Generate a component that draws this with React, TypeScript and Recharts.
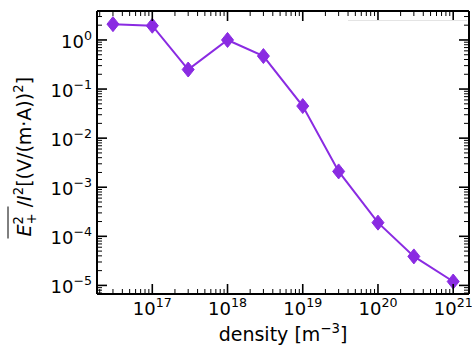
import { Line, LineChart, XAxis, YAxis } from "recharts";

const densities = [3e16, 1e17, 3e17, 1e18, 3e18, 1e19, 3e19, 1e20, 3e20, 1e21];
const fieldPower = [2.1, 1.95, 0.25, 1.0, 0.47, 0.045, 0.0021, 1.9e-4, 3.9e-5, 1.2e-5];

// axis limits as log10 exponents
const X_MIN_EXP = 16.265;
const X_MAX_EXP = 21.21;
const Y_MIN_EXP = -5.175;
const Y_MAX_EXP = 0.59;

const COLOR = "#8a2be2";
const FONT = "'DejaVu Sans', sans-serif";
const TICK_FONT = 18;
const SUP_FONT = 12.6;

const data = densities.map((d, i) => ({ density: d, field: fieldPower[i] }));

function logTicks(minExp: number, maxExp: number) {
  const out: number[] = [];
  for (let d = Math.floor(minExp); d <= Math.ceil(maxExp); d++) {
    for (let k = 1; k <= 9; k++) {
      const v = k * Math.pow(10, d);
      const l = Math.log10(v);
      if (l >= minExp && l <= maxExp) out.push(v);
    }
  }
  return out;
}

const xTicks = logTicks(X_MIN_EXP, X_MAX_EXP);
const yTicks = logTicks(Y_MIN_EXP, Y_MAX_EXP);

const isMajor = (v: number) => {
  const l = Math.log10(v);
  return Math.abs(l - Math.round(l)) < 1e-9;
};
const expText = (v: number) => {
  const e = Math.round(Math.log10(v));
  return e < 0 ? `\u2212${-e}` : `${e}`;
};

function BottomTick({ x, y, payload }: any) {
  const v = payload.value;
  const major = isMajor(v);
  return (
    <g>
      <line x1={x} x2={x} y1={y} y2={y - (major ? 10 : 5)} stroke="#000" strokeWidth={major ? 1.6 : 1} />
      {major && (
        <text x={x} y={y + 21} textAnchor="middle" fontFamily={FONT} fontSize={TICK_FONT} fill="#000">
          10
          <tspan fontSize={SUP_FONT} dy={-8}>
            {expText(v)}
          </tspan>
        </text>
      )}
    </g>
  );
}

function TopTick({ x, y, payload }: any) {
  const major = isMajor(payload.value);
  return (
    <line x1={x} x2={x} y1={y} y2={y + (major ? 10 : 5)} stroke="#000" strokeWidth={major ? 1.6 : 1} />
  );
}

function LeftTick({ x, y, payload }: any) {
  const v = payload.value;
  const major = isMajor(v);
  return (
    <g>
      <line x1={x} x2={x + (major ? 10 : 5)} y1={y} y2={y} stroke="#000" strokeWidth={major ? 1.6 : 1} />
      {major && (
        <text x={x - 5} y={y + 8} textAnchor="end" fontFamily={FONT} fontSize={TICK_FONT} fill="#000">
          10
          <tspan fontSize={SUP_FONT} dy={-8}>
            {expText(v)}
          </tspan>
        </text>
      )}
    </g>
  );
}

function RightTick({ x, y, payload }: any) {
  const major = isMajor(payload.value);
  return (
    <line x1={x} x2={x - (major ? 10 : 5)} y1={y} y2={y} stroke="#000" strokeWidth={major ? 1.6 : 1} />
  );
}

function Diamond({ cx, cy }: any) {
  if (cx == null || cy == null) return <g />;
  return (
    <polygon
      points={`${cx},${cy - 7.5} ${cx + 6},${cy} ${cx},${cy + 7.5} ${cx - 6},${cy}`}
      fill={COLOR}
      stroke={COLOR}
      strokeWidth={1}
    />
  );
}

function XTitle({ viewBox }: any) {
  const { x, y, width } = viewBox;
  return (
    <text x={x + width / 2} y={y + 47} textAnchor="middle" fontFamily={FONT} fontSize={19} fill="#000">
      density [m
      <tspan fontSize={13.3} dy={-8}>
        {"\u22123"}
      </tspan>
      <tspan dy={8}>]</tspan>
    </text>
  );
}

function YTitle({ viewBox }: any) {
  const { x, y, height } = viewBox;
  const bx = x + 31;
  const sy = y + height / 2 + 84;
  return (
    <g transform={`translate(${bx}, ${sy}) rotate(-90)`}>
      <line x1={-2} x2={30} y1={-23} y2={-23} stroke="#000" strokeWidth={1} />
      <text x={0} y={0} fontFamily={FONT} fontSize={19} fill="#000">
        <tspan fontStyle="italic">E</tspan>
        <tspan fontSize={13.3} dy={-8}>
          2
        </tspan>
        <tspan fontSize={13.3} dx={-8.5} dy={13}>
          +
        </tspan>
        <tspan dy={-5}>{"\u00a0/"}</tspan>
        <tspan fontStyle="italic">I</tspan>
        <tspan fontSize={13.3} dy={-8}>
          2
        </tspan>
        <tspan dy={8}>[(V/(m·A))</tspan>
        <tspan fontSize={13.3} dy={-8}>
          2
        </tspan>
        <tspan dy={8}>]</tspan>
      </text>
    </g>
  );
}

const xDomain = [Math.pow(10, X_MIN_EXP), Math.pow(10, X_MAX_EXP)];
const yDomain = [Math.pow(10, Y_MIN_EXP), Math.pow(10, Y_MAX_EXP)];
const axisLine = { stroke: "#000", strokeWidth: 2 };

export default function App() {
  return (
    <div style={{ position: "absolute", left: 0, top: 0, width: 472, height: 349, background: "#fff" }}>
      <LineChart width={472} height={349} data={data} margin={{ top: 10, right: 2, bottom: 0, left: 0 }}>
        <XAxis
          xAxisId="bottom"
          dataKey="density"
          type="number"
          scale="log"
          domain={xDomain}
          allowDataOverflow
          ticks={xTicks}
          interval={0}
          tick={<BottomTick />}
          tickLine={false}
          tickSize={0}
          tickMargin={0}
          axisLine={axisLine}
          height={55}
          label={{ content: XTitle }}
        />
        <XAxis
          xAxisId="top"
          orientation="top"
          dataKey="density"
          type="number"
          scale="log"
          domain={xDomain}
          allowDataOverflow
          ticks={xTicks}
          interval={0}
          tick={<TopTick />}
          tickLine={false}
          tickSize={0}
          tickMargin={0}
          axisLine={axisLine}
          height={1}
        />
        <YAxis
          yAxisId="left"
          type="number"
          scale="log"
          domain={yDomain}
          allowDataOverflow
          ticks={yTicks}
          interval={0}
          tick={<LeftTick />}
          tickLine={false}
          tickSize={0}
          tickMargin={0}
          axisLine={axisLine}
          width={97}
          label={{ content: YTitle }}
        />
        <YAxis
          yAxisId="right"
          orientation="right"
          type="number"
          scale="log"
          domain={yDomain}
          allowDataOverflow
          ticks={yTicks}
          interval={0}
          tick={<RightTick />}
          tickLine={false}
          tickSize={0}
          tickMargin={0}
          axisLine={axisLine}
          width={1}
        />
        <Line
          xAxisId="bottom"
          yAxisId="left"
          dataKey="field"
          type="linear"
          stroke={COLOR}
          strokeWidth={2}
          dot={(p: any) => <Diamond key={p.index} cx={p.cx} cy={p.cy} />}
          isAnimationActive={false}
        />
      </LineChart>
      <div
        style={{ position: "absolute", left: 348, top: 20, width: 119, height: 1, background: "#e4e4e4" }}
      />
    </div>
  );
}
